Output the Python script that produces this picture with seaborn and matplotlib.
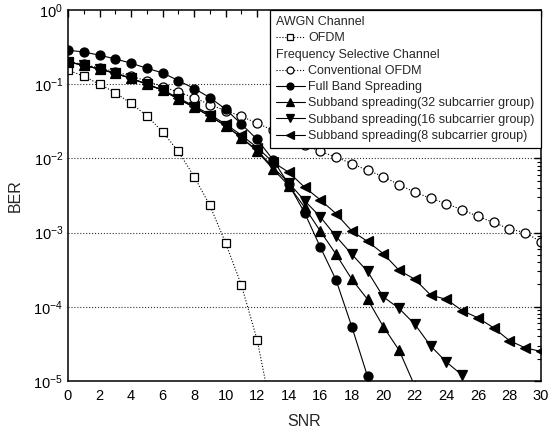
import matplotlib
matplotlib.use("Agg")
import matplotlib.pyplot as plt
import seaborn as sns
import numpy as np
from matplotlib.lines import Line2D
from matplotlib.ticker import MultipleLocator, LogLocator, NullFormatter

# ---------------- data ----------------
snr_awgn = list(range(0, 14))
ber_awgn = [0.155, 0.128, 0.10, 0.077, 0.055, 0.0376, 0.0228, 0.0124, 0.0057,
            0.00232, 7.2e-4, 1.95e-4, 3.55e-5, 3.1e-6]

snr_conv = list(range(0, 31))
ber_conv = [0.2, 0.185, 0.165, 0.148, 0.128, 0.111, 0.093, 0.078, 0.066, 0.053,
            0.044, 0.037, 0.0296, 0.024, 0.019, 0.0153, 0.0124, 0.0104, 0.0085,
            0.0069, 0.0057, 0.0044, 0.0035, 0.0029, 0.00245, 0.00203, 0.00165,
            0.00137, 0.00112, 0.001, 0.00075]

snr_full = list(range(0, 20))
ber_full = [0.287, 0.272, 0.246, 0.219, 0.192, 0.164, 0.142, 0.112, 0.0875, 0.066,
            0.046, 0.029, 0.018, 0.0096, 0.00447, 0.00186, 6.4e-4, 2.3e-4, 5.4e-5,
            1.15e-5]

snr_32 = list(range(0, 23))
ber_32 = [0.2, 0.18, 0.16, 0.14, 0.12, 0.1, 0.083, 0.063, 0.049, 0.037, 0.0276,
          0.019, 0.0125, 0.0072, 0.0043, 0.0022, 0.00105, 5.1e-4, 2.35e-4,
          1.26e-4, 5.4e-5, 2.6e-5, 8.5e-6]

snr_16 = list(range(0, 26))
ber_16 = [0.2, 0.18, 0.16, 0.14, 0.12, 0.1, 0.083, 0.063, 0.049, 0.037, 0.0276,
          0.019, 0.0128, 0.0076, 0.0047, 0.0027, 0.00163, 8.9e-4, 5.1e-4, 3.0e-4,
          1.36e-4, 9.5e-5, 5.8e-5, 2.97e-5, 1.8e-5, 1.2e-5]

snr_8 = list(range(0, 31))
ber_8 = [0.2, 0.18, 0.16, 0.14, 0.12, 0.1, 0.084, 0.065, 0.051, 0.039, 0.029,
         0.0205, 0.014, 0.0089, 0.0065, 0.0041, 0.00277, 0.0018, 0.00105, 7.6e-4,
         5.2e-4, 3.1e-4, 2.35e-4, 1.44e-4, 1.26e-4, 8.9e-5, 7.1e-5, 5.2e-5,
         3.5e-5, 2.8e-5, 2.5e-5]

header_awgn = "AWGN Channel"
header_fs = "Frequency Selective Channel"
labels = ["OFDM", "Conventional OFDM", "Full Band Spreading",
          "Subband spreading(32 subcarrier group)",
          "Subband spreading(16 subcarrier group)",
          "Subband spreading(8 subcarrier group)"]

# ---------------- style ----------------
sns.set_theme(style="white")
plt.rcParams['font.family'] = ['Liberation Sans', 'DejaVu Sans']
plt.rcParams['mathtext.fontset'] = 'custom'
plt.rcParams['mathtext.rm'] = 'Liberation Sans'
plt.rcParams['mathtext.it'] = 'Liberation Sans:italic'

fig = plt.figure(figsize=(5.57, 4.37), dpi=100)
ax = fig.add_axes([68/557, 1-381/437, (541-68)/557, (381-10)/437])

lw = 0.8
series = [
    (snr_awgn, ber_awgn, dict(marker='s', ls=':', mfc='white', ms=5.5)),
    (snr_conv, ber_conv, dict(marker='o', ls=':', mfc='white', ms=6.5)),
    (snr_full, ber_full, dict(marker='o', ls='-', mfc='black', ms=6.5)),
    (snr_32, ber_32, dict(marker='^', ls='-', mfc='black', ms=7)),
    (snr_16, ber_16, dict(marker='v', ls='-', mfc='black', ms=7)),
    (snr_8, ber_8, dict(marker='<', ls='-', mfc='black', ms=7)),
]
handles = []
for (x, y, st), lab in zip(series, labels):
    sns.lineplot(x=x, y=y, ax=ax, color='black', lw=lw, linestyle=st['ls'],
                 marker=st['marker'], markerfacecolor=st['mfc'],
                 markeredgecolor='black', markeredgewidth=0.9,
                 markersize=st['ms'], sort=False, estimator=None, legend=False)
    handles.append(Line2D([], [], color='black', lw=lw, linestyle=st['ls'],
                          marker=st['marker'], markerfacecolor=st['mfc'],
                          markeredgecolor='black', markeredgewidth=0.9,
                          markersize=st['ms'] - 1.5))

ax.set_yscale('log')
ax.set_xlim(0, 30)
ax.set_ylim(1e-5, 1)
ax.xaxis.set_major_locator(MultipleLocator(2))
ax.xaxis.set_minor_locator(MultipleLocator(1))
ax.yaxis.set_major_locator(LogLocator(base=10, numticks=10))
ax.yaxis.set_minor_locator(LogLocator(base=10, subs=np.arange(2, 10), numticks=20))
ax.yaxis.set_minor_formatter(NullFormatter())
ax.tick_params(which='both', direction='in', top=True, right=True, colors='black',
               labelsize=10.5)
ax.tick_params(which='major', length=5, width=1.0)
ax.tick_params(which='minor', length=3, width=0.8)
ax.tick_params(axis='x', pad=6)
for s in ax.spines.values():
    s.set_color('black')
    s.set_linewidth(1.1)

for yv in [1e-1, 1e-2, 1e-3, 1e-4]:
    ax.axhline(yv, color='#333333', lw=0.8, ls=':', zorder=0.5)

ax.set_xlabel("SNR", fontsize=11.5, labelpad=8)
ax.set_ylabel("BER", fontsize=11.5, labelpad=8)

# legend with header rows
blank = Line2D([], [], linestyle='none', marker=None)
leg_handles = [blank, handles[0], blank] + handles[1:]
leg_labels = [header_awgn, labels[0], header_fs] + labels[1:]
leg = ax.legend(leg_handles, leg_labels, loc='upper right', fontsize=9,
                frameon=True, fancybox=False, edgecolor='black', framealpha=1,
                borderaxespad=0, handlelength=2.3, handletextpad=0.3,
                labelspacing=0.34, borderpad=0.5)
leg.get_frame().set_linewidth(0.9)
leg.set_zorder(10)
try:
    vp = leg._legend_handle_box.get_children()[0]
    for hp in vp.get_children():
        da, ta = hp.get_children()
        if ta.get_text() in (header_awgn, header_fs):
            da.width = 0
            hp.sep = 0
except Exception:
    pass

fig.savefig("out.png", dpi=100)
